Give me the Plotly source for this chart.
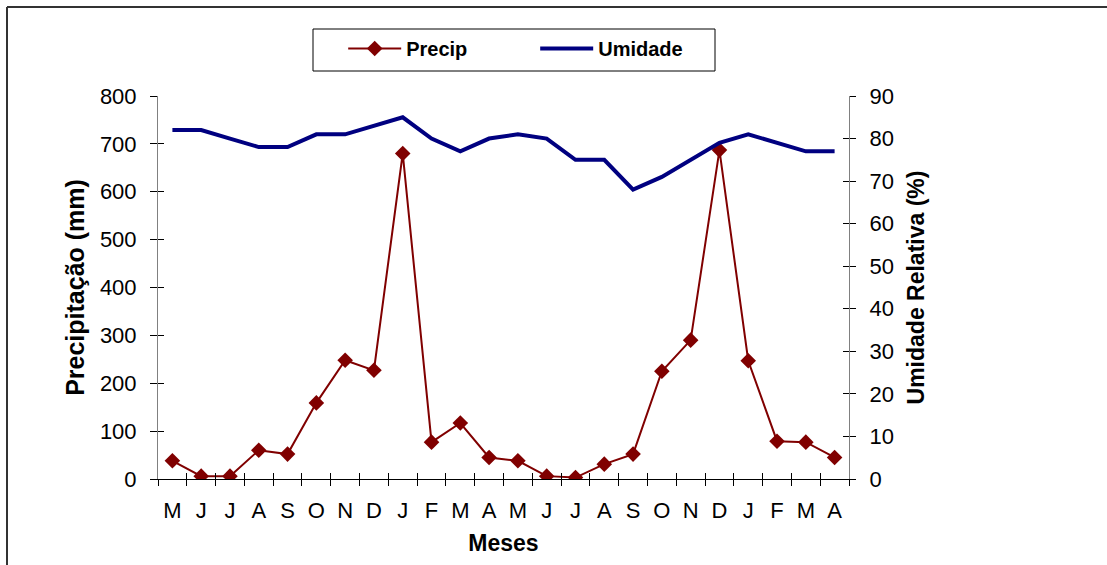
import plotly.graph_objects as go

months = ["M", "J", "J", "A", "S", "O", "N", "D", "J", "F", "M", "A",
          "M", "J", "J", "A", "S", "O", "N", "D", "J", "F", "M", "A"]
precip = [38, 6, 6, 60, 52, 159, 248, 227, 680, 77, 117, 45,
          38, 6, 3, 31, 52, 225, 290, 687, 247, 79, 77, 45]
umidade = [82, 82, 80, 78, 78, 81, 81, 83, 85, 80, 77, 80,
           81, 80, 75, 75, 68, 71, 75, 79, 81, 79, 77, 77]
precip_ticks = list(range(0, 801, 100))
umid_ticks = list(range(0, 91, 10))

idx = list(range(len(months)))
bounds = [i - 0.5 for i in range(len(months) + 1)]
xr = [-0.5, len(months) - 0.5]

FONT = "Liberation Sans, Arial, sans-serif"
tickfont = dict(family=FONT, size=22, color="black")

fig = go.Figure()
fig.add_trace(go.Scatter(x=idx, y=precip, name="Precip", mode="lines+markers",
                         line=dict(color="#800000", width=2),
                         marker=dict(symbol="diamond", size=12, color="#800000"),
                         xaxis="x", yaxis="y"))
fig.add_trace(go.Scatter(x=idx, y=umidade, name="Umidade", mode="lines",
                         line=dict(color="#000080", width=4),
                         xaxis="x", yaxis="y2"))
# dummy traces to make tick-only overlay axes render
for xa, ya in [("x2", "y"), ("x3", "y"), ("x", "y3"), ("x", "y4")]:
    fig.add_trace(go.Scatter(x=[None], y=[None], xaxis=xa, yaxis=ya,
                             showlegend=False, hoverinfo="skip"))

fig.update_layout(
    width=1107, height=565,
    margin=dict(l=158, r=258, t=96, b=86),
    paper_bgcolor="white", plot_bgcolor="white",
    font=dict(family=FONT, size=22, color="black"),
    xaxis=dict(range=xr, tickvals=idx, ticktext=months, ticks="",
               showline=True, linecolor="black", linewidth=1,
               showgrid=False, zeroline=False, tickfont=tickfont,
               ticklabelstandoff=12,
               title=dict(text="Meses", standoff=12,
                          font=dict(family=FONT, size=23, color="black", weight="bold"))),
    xaxis2=dict(range=xr, overlaying="x", anchor="y", tickvals=bounds,
                ticks="outside", ticklen=6, tickcolor="black", showticklabels=False,
                showline=False, showgrid=False, zeroline=False),
    xaxis3=dict(range=xr, overlaying="x", anchor="y", tickvals=bounds,
                ticks="inside", ticklen=6, tickcolor="black", showticklabels=False,
                showline=False, showgrid=False, zeroline=False),
    yaxis=dict(range=[0, 800], tickvals=precip_ticks, ticks="outside", ticklen=7,
               tickcolor="black", showline=True, linecolor="#808080", linewidth=1,
               showgrid=False, zeroline=False, tickfont=tickfont,
               ticklabelstandoff=9,
               title=dict(text="Precipitação (mm)", standoff=8,
                          font=dict(family=FONT, size=25, color="black", weight="bold"))),
    yaxis2=dict(range=[0, 90], tickvals=umid_ticks, overlaying="y", side="right",
                anchor="x", ticks="outside", ticklen=6, tickcolor="black",
                showline=True, linecolor="#808080", linewidth=1,
                showgrid=False, zeroline=False, tickfont=tickfont,
                ticklabelstandoff=9,
                title=dict(text="Umidade Relativa (%)", standoff=15,
                           font=dict(family=FONT, size=23, color="black", weight="bold"))),
    yaxis3=dict(range=[0, 800], tickvals=precip_ticks, overlaying="y", side="left",
                anchor="x", ticks="inside", ticklen=6, tickcolor="black",
                showticklabels=False, showline=False, showgrid=False, zeroline=False),
    yaxis4=dict(range=[0, 90], tickvals=umid_ticks, overlaying="y", side="right",
                anchor="x", ticks="inside", ticklen=6, tickcolor="black",
                showticklabels=False, showline=False, showgrid=False, zeroline=False),
    legend=dict(orientation="h", x=0.268, y=1.175, xanchor="left", yanchor="top",
                bgcolor="rgba(0,0,0,0)", borderwidth=0,
                font=dict(family=FONT, size=20, color="black", weight="bold"),
                entrywidth=124, itemwidth=53),
    showlegend=True,
)

pw, ph = 1107 - 158 - 258, 565 - 96 - 86
def px_x(p):
    return (p - 158) / pw
def px_y(p):
    return (565 - 86 - p) / ph

# legend box
fig.add_shape(type="rect", xref="paper", yref="paper",
              x0=px_x(313), x1=px_x(715), y0=px_y(71), y1=px_y(29),
              line=dict(color="black", width=1), fillcolor="rgba(0,0,0,0)", layer="below")
# chart outer border (top and left visible)
fig.add_shape(type="line", xref="paper", yref="paper",
              x0=px_x(7), x1=px_x(1115), y0=px_y(7), y1=px_y(7),
              line=dict(color="#333333", width=2))
fig.add_shape(type="line", xref="paper", yref="paper",
              x0=px_x(7), x1=px_x(7), y0=px_y(7), y1=px_y(575),
              line=dict(color="#333333", width=2))

fig.write_html("out.html")
